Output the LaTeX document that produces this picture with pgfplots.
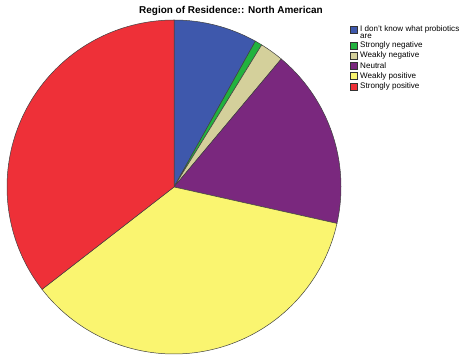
\documentclass[border=0pt]{standalone}
\usepackage{pgfplots}
\pgfplotsset{compat=1.18}
\usepackage{fontspec}
\setmainfont{Liberation Sans}
\definecolor{cBlue}{RGB}{62,88,172}
\definecolor{cGreen}{RGB}{34,178,62}
\definecolor{cBeige}{RGB}{212,208,155}
\definecolor{cPurple}{RGB}{122,40,126}
\definecolor{cYellow}{RGB}{250,245,112}
\definecolor{cRed}{RGB}{238,48,56}
% slice: start percent, end percent (cumulative), colour
\newcommand\slice[3]{%
  \addplot[fill=#3, draw=black!75, line width=0.5pt, domain={90-3.6*#2}:{90-3.6*#1}, samples=80, variable=\t]
    ({174+167*cos(t)},{170+167*sin(t)}) -- (axis cs:174,170) -- cycle;}
\newcommand\legitem[3]{%
  \draw[black!80, line width=0.4pt, fill=#3] (axis cs:350,{357-#1-3.5}) rectangle (axis cs:357,{357-#1+3.5});
  \node[anchor=west, inner sep=0pt, font=\fontsize{8.1}{9}\selectfont] at (axis cs:360,{357-#1}) {#2};}
\begin{document}
\begin{tikzpicture}
\begin{axis}[at={(0,0)}, anchor=south west, scale only axis, width=467bp, height=357bp,
  xmin=0, xmax=467, ymin=0, ymax=357, hide axis, clip=false]
% percentages: 8.1, 0.7, 2.3, 17.4, 36.0, 35.5
\slice{0}{8.1}{cBlue}
\slice{8.1}{8.8}{cGreen}
\slice{8.8}{11.1}{cBeige}
\slice{11.1}{28.5}{cPurple}
\slice{28.5}{64.5}{cYellow}
\slice{64.5}{100}{cRed}
\node[font=\bfseries\fontsize{10}{11}\selectfont] at (axis cs:231,346) {Region of Residence:: North American};
\draw[black!80, line width=0.4pt, fill=cBlue] (axis cs:350,{357-33.5}) rectangle (axis cs:357,{357-26.5});
\node[anchor=west, inner sep=0pt, font=\fontsize{8.1}{9}\selectfont] at (axis cs:360,{357-29}) {I don't know what probiotics};
\node[anchor=west, inner sep=0pt, font=\fontsize{8.1}{9}\selectfont] at (axis cs:360,{357-36.5}) {are};
\legitem{45.5}{Strongly negative}{cGreen}
\legitem{55.5}{Weakly negative}{cBeige}
\legitem{65.7}{Neutral}{cPurple}
\legitem{76}{Weakly positive}{cYellow}
\legitem{86.5}{Strongly positive}{cRed}
\end{axis}
\pgfresetboundingbox
\useasboundingbox (0,0) rectangle (467bp,357bp);
\end{tikzpicture}
\end{document}
